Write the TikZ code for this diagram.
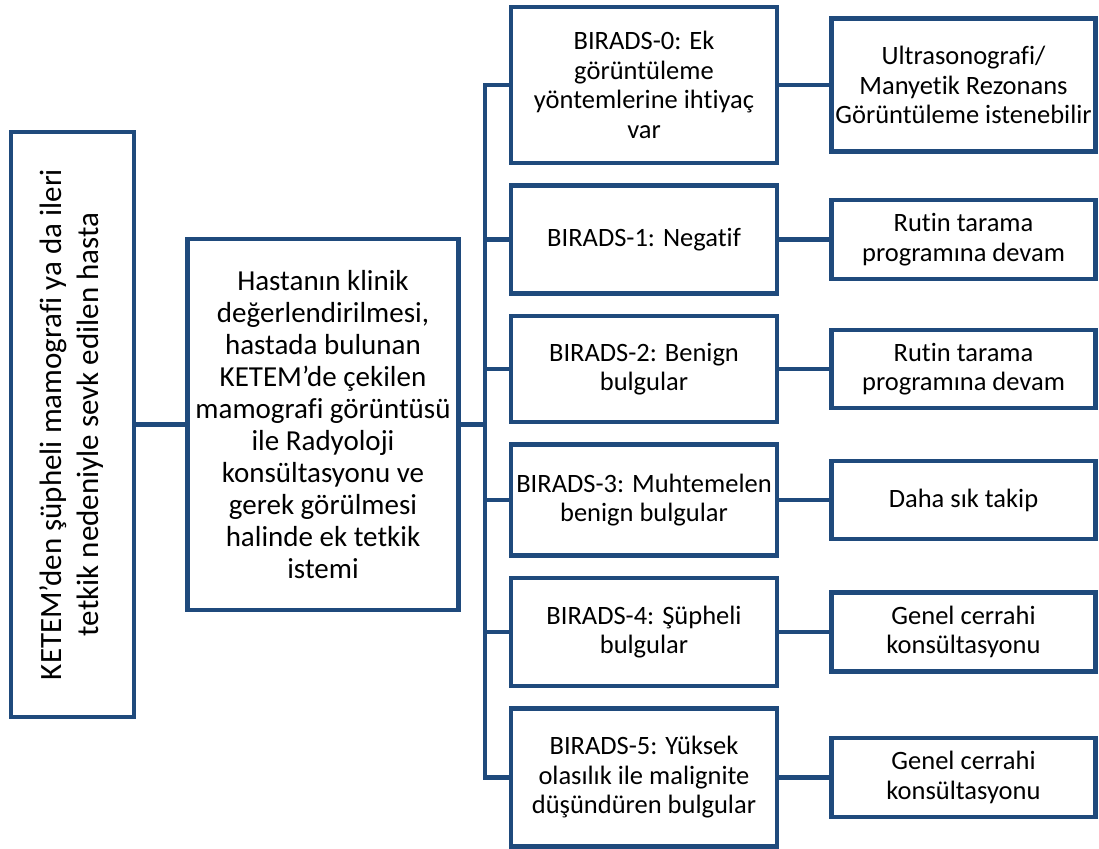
\documentclass[tikz,border=0pt]{standalone}
\usepackage{fontspec}
\setmainfont[RawFeature={-liga;-clig;-dlig}]{Carlito}
\usepackage{tikz}
\usetikzlibrary{positioning,calc}
\definecolor{biradsblue}{HTML}{1F4A7C}
\tikzset{
  box/.style={draw=biradsblue, line width=4.5pt, fill=white, align=center, inner sep=2pt, font=\fontsize{26.5}{29.5}\selectfont},
  midbox/.style={box, font=\fontsize{29}{32}\selectfont},
  sidebox/.style={box, font=\fontsize{31}{36.5}\selectfont},
  catbox/.style={box, minimum width=266pt},
  resbox/.style={box, minimum width=264pt},
  link/.style={draw=biradsblue, line width=4.5pt}
}
\begin{document}
\begin{tikzpicture}[x=1pt, y=-1pt]
  \useasboundingbox (0,0) rectangle (1099,848);

  \node[sidebox, minimum width=123pt, minimum height=585pt] (patient) at (72.5,424.5)
    {\rotatebox{90}{\begin{tabular}{@{}c@{}}KETEM’den şüpheli mamografi ya da ileri\\tetkik nedeniyle sevk edilen hasta\end{tabular}}};
  \node[midbox, right=49pt of patient, minimum width=271pt, minimum height=371pt] (exam)
    {Hastanın klinik\\değerlendirilmesi,\\hastada bulunan\\KETEM’de çekilen\\mamografi görüntüsü\\ile Radyoloji\\konsültasyonu ve\\gerek görülmesi\\halinde ek tetkik\\istemi};

  % BIRADS categories
  \node[catbox, minimum height=156pt] (b0) at (644,85) {BIRADS-0: Ek\\görüntüleme\\yöntemlerine ihtiyaç\\var};
  \node[catbox, below=18pt of b0, minimum height=108pt] (b1) {BIRADS-1: Negatif};
  \node[catbox, below=18pt of b1, minimum height=106pt] (b2) {BIRADS-2: Benign\\bulgular};
  \node[catbox, below=18pt of b2, minimum height=111pt] (b3) {BIRADS-3: Muhtemelen\\benign bulgular};
  \node[catbox, below=18pt of b3, minimum height=108pt] (b4) {BIRADS-4: Şüpheli\\bulgular};
  \node[catbox, below=18pt of b4, minimum height=138pt] (b5) {BIRADS-5: Yüksek\\olasılık ile malignite\\düşündüren bulgular};

  % actions
  \node[resbox, right=50pt of b0, minimum height=133pt] (r0) {Ultrasonografi/\\Manyetik Rezonans\\Görüntüleme istenebilir};
  \node[resbox, right=50pt of b1, minimum height=79pt] (r1) {Rutin tarama\\programına devam};
  \node[resbox, right=50pt of b2, minimum height=78pt] (r2) {Rutin tarama\\programına devam};
  \node[resbox, right=50pt of b3, minimum height=78pt] (r3) {Daha sık takip};
  \node[resbox, right=50pt of b4, minimum height=79pt] (r4) {Genel cerrahi\\konsültasyonu};
  \node[resbox, right=50pt of b5, minimum height=79pt] (r5) {Genel cerrahi\\konsültasyonu};

  \coordinate (bus) at (485,424.5);

  \draw[link] (patient.east) -- (exam.west);
  \draw[link] (exam.east) -- (exam.east -| bus);
  \draw[link] (b0.west) -- (b0.west -| bus) -- (b5.west -| bus) -- (b5.west);
  \foreach \i in {1,...,4}
    \draw[link] (b\i.west -| bus) -- (b\i.west);
  \foreach \i in {0,...,5}
    \draw[link] (b\i.east) -- (r\i.west);
\end{tikzpicture}
\end{document}
